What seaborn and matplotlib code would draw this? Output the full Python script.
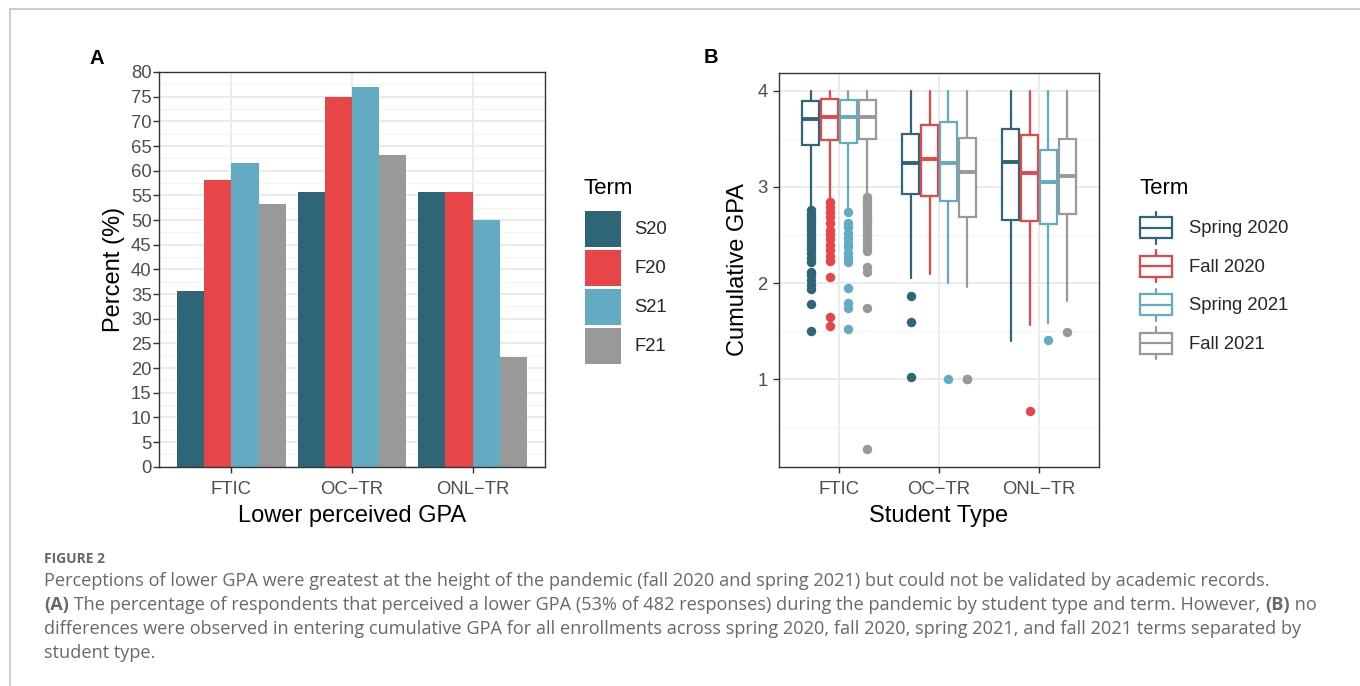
import matplotlib
matplotlib.use("Agg")
import matplotlib.pyplot as plt
import numpy as np
import pandas as pd
import seaborn as sns
from matplotlib.patches import Patch, Rectangle
from matplotlib.lines import Line2D
from matplotlib.legend_handler import HandlerBase

# ---------------- data ----------------
categories = ["FTIC", "OC\u2212TR", "ONL\u2212TR"]
terms_short = ["S20", "F20", "S21", "F21"]
terms_long = ["Spring 2020", "Fall 2020", "Spring 2021", "Fall 2021"]
term_colors = ["#2E6677", "#E84548", "#63ABC3", "#999999"]

# Panel A: percent perceiving lower GPA (by category)
pct_S20 = [35.7, 55.6, 55.6]
pct_F20 = [58.2, 75.0, 55.6]
pct_S21 = [61.5, 76.9, 50.0]
pct_F21 = [53.2, 63.2, 22.2]

# Panel B: box statistics per term (FTIC, OC-TR, ONL-TR)
q1_S20 = [3.43, 2.93, 2.66]
med_S20 = [3.71, 3.25, 3.26]
q3_S20 = [3.89, 3.55, 3.60]
lo_S20 = [2.78, 2.05, 1.40]
hi_S20 = [4.00, 4.00, 4.00]
fl_S20 = [[2.76, 2.72, 2.69, 2.66, 2.62, 2.58, 2.55, 2.51, 2.47, 2.43, 2.39,
           2.35, 2.31, 2.26, 2.22, 2.12, 2.08, 2.03, 1.98, 1.94, 1.78, 1.50],
          [1.87, 1.60, 1.03],
          []]

q1_F20 = [3.49, 2.91, 2.65]
med_F20 = [3.73, 3.29, 3.14]
q3_F20 = [3.91, 3.64, 3.54]
lo_F20 = [2.87, 2.10, 1.57]
hi_F20 = [4.00, 4.00, 4.00]
fl_F20 = [[2.84, 2.79, 2.74, 2.69, 2.62, 2.55, 2.51, 2.46, 2.40, 2.34, 2.28,
           2.23, 2.06, 1.65, 1.56],
          [],
          [0.67]]

q1_S21 = [3.46, 2.85, 2.61]
med_S21 = [3.73, 3.25, 3.05]
q3_S21 = [3.90, 3.67, 3.38]
lo_S21 = [2.78, 2.00, 1.59]
hi_S21 = [4.00, 4.00, 4.00]
fl_S21 = [[2.74, 2.62, 2.58, 2.52, 2.47, 2.42, 2.38, 2.31, 2.26, 2.22, 1.95,
           1.79, 1.74, 1.52],
          [1.00],
          [1.41]]

q1_F21 = [3.50, 2.69, 2.72]
med_F21 = [3.73, 3.15, 3.11]
q3_F21 = [3.90, 3.51, 3.50]
lo_F21 = [2.90, 1.96, 1.81]
hi_F21 = [4.00, 4.00, 4.00]
fl_F21 = [[2.89, 2.86, 2.83, 2.80, 2.77, 2.73, 2.70, 2.66, 2.62, 2.58, 2.54,
           2.50, 2.46, 2.42, 2.38, 2.33, 2.17, 2.12, 1.74, 0.28],
          [1.01, 1.00],
          [1.49]]

caption_title = "FIGURE 2"
caption_lines = [
    [("Perceptions of lower GPA were greatest at the height of the pandemic (fall 2020 and spring 2021) but could not be validated by academic records.", "normal")],
    [("(A)", "bold"), (" The percentage of respondents that perceived a lower GPA (53% of 482 responses) during the pandemic by student type and term. However, ", "normal"), ("(B)", "bold"), (" no", "normal")],
    [("differences were observed in entering cumulative GPA for all enrollments across spring 2020, fall 2020, spring 2021, and fall 2021 terms separated by", "normal")],
    [("student type.", "normal")],
]

# ---------------- style ----------------
sns.set_theme(style="white")
plt.rcParams["font.family"] = ["Liberation Sans", "DejaVu Sans"]

W, H = 1360, 686
fig = plt.figure(figsize=(W / 100, H / 100), dpi=100)
fig.patch.set_facecolor("white")

def fx(px):
    return px / W

def fy(py):
    return 1 - py / H

TICK_COL = "#4D4D4D"
GRID_MAJ = "#EBEBEB"
GRID_MIN = "#F3F3F3"

def style_axes(ax, ypad):
    ax.set_facecolor("white")
    ax.set_axisbelow(True)
    for s in ax.spines.values():
        s.set_color("#333333")
        s.set_linewidth(1.0)
        s.set_visible(True)
    ax.tick_params(axis="both", which="major", direction="out", length=4,
                   width=1.0, color="#333333", labelcolor=TICK_COL,
                   labelsize=13.3, bottom=True, left=True)
    ax.tick_params(axis="x", which="major", pad=6)
    ax.tick_params(axis="y", which="major", pad=ypad)
    ax.tick_params(axis="both", which="minor", length=0)
    ax.grid(True, which="major", color=GRID_MAJ, linewidth=1.4)
    ax.grid(True, which="minor", axis="y", color=GRID_MIN, linewidth=0.8)

# ---------------- panel A ----------------
axA = fig.add_axes([fx(159), fy(466.7), fx(545) - fx(159), fy(72) - fy(466.7)])
dfA = pd.DataFrame({
    "Type": categories * 4,
    "Term": np.repeat(terms_short, len(categories)),
    "Percent": pct_S20 + pct_F20 + pct_S21 + pct_F21,
})
sns.barplot(data=dfA, x="Type", y="Percent", hue="Term", order=categories,
            hue_order=terms_short, palette=term_colors, width=0.9, gap=0,
            saturation=1, errorbar=None, legend=False, linewidth=0,
            edgecolor="none", ax=axA)
style_axes(axA, ypad=1.3)
axA.set_xlim(-0.6, 2.6)
axA.set_ylim(0, 80)
axA.set_yticks(np.arange(0, 81, 5))
axA.set_yticks(np.arange(2.5, 80, 5), minor=True)
axA.set_xlabel("Lower perceived GPA", fontsize=17, color="black", labelpad=5)
axA.set_ylabel("Percent (%)", fontsize=17, color="black", labelpad=4.3)

# ---------------- panel B ----------------
axB = fig.add_axes([fx(779), fy(466.7), fx(1099) - fx(779), fy(72.7) - fy(466.7)])
style_axes(axB, ypad=4.3)

box_sets = [
    (q1_S20, med_S20, q3_S20, lo_S20, hi_S20, fl_S20),
    (q1_F20, med_F20, q3_F20, lo_F20, hi_F20, fl_F20),
    (q1_S21, med_S21, q3_S21, lo_S21, hi_S21, fl_S21),
    (q1_F21, med_F21, q3_F21, lo_F21, hi_F21, fl_F21),
]
offsets = [-0.28125, -0.09375, 0.09375, 0.28125]
for ti, (q1, med, q3, lo, hi, fl) in enumerate(box_sets):
    c = term_colors[ti]
    stats = []
    for ci in range(len(categories)):
        stats.append(dict(q1=q1[ci], med=med[ci], q3=q3[ci], whislo=lo[ci],
                          whishi=hi[ci], fliers=fl[ci], label=""))
    pos = [ci + offsets[ti] for ci in range(len(categories))]
    axB.bxp(stats, positions=pos, widths=0.172, showcaps=False,
            patch_artist=True, manage_ticks=False,
            boxprops=dict(facecolor="white", edgecolor=c, linewidth=1.6),
            whiskerprops=dict(color=c, linewidth=1.6),
            medianprops=dict(color=c, linewidth=2.8, solid_capstyle="butt"),
            flierprops=dict(marker="o", markerfacecolor=c,
                            markeredgecolor="none", markersize=6.8))

axB.set_xlim(-0.6, 2.6)
axB.set_ylim(0.094, 4.186)
axB.set_xticks(range(len(categories)))
axB.set_xticklabels(categories)
axB.set_yticks([1, 2, 3, 4])
axB.set_yticks([0.5, 1.5, 2.5, 3.5], minor=True)
axB.set_xlabel("Student Type", fontsize=17, color="black", labelpad=5)
axB.set_ylabel("Cumulative GPA", fontsize=17, color="black", labelpad=6)

# ---------------- legends ----------------
fig.text(fx(583), fy(194), "Term", fontsize=16, color="black", va="baseline", ha="left")
fig.text(fx(1140), fy(194), "Term", fontsize=16, color="black", va="baseline", ha="left")

FS = 13.3
fs_px = FS * 100 / 72

def hh_for(px):
    # matplotlib handle box height = fs*(0.65*hh + 0.245)
    return (px / fs_px - 0.245) / 0.65

hA = [Patch(facecolor=c, edgecolor="none") for c in term_colors]
legA = fig.legend(hA, terms_short, loc="upper left",
                  bbox_to_anchor=(fx(585), fy(210.7)), frameon=False,
                  fontsize=FS, handlelength=36 / fs_px, handleheight=hh_for(36),
                  labelspacing=3 / fs_px, handletextpad=13 / fs_px,
                  borderpad=0, borderaxespad=0)


class BoxHandler(HandlerBase):
    def create_artists(self, legend, orig_handle, xdescent, ydescent, width,
                       height, fontsize, trans):
        c = orig_handle.get_color()
        x0 = -xdescent
        y0 = -ydescent
        cx = x0 + width / 2
        b0 = y0 + 0.17 * height
        b1 = y0 + 0.83 * height
        rect = Rectangle((x0, b0), width, b1 - b0, facecolor="white",
                         edgecolor=c, linewidth=1.6, transform=trans)
        wl = Line2D([cx, cx], [y0, b0], color=c, linewidth=1.6, transform=trans)
        wh = Line2D([cx, cx], [b1, y0 + height], color=c, linewidth=1.6, transform=trans)
        md = Line2D([x0, x0 + width], [(b0 + b1) / 2] * 2, color=c,
                    linewidth=1.6, transform=trans)
        return [wl, wh, rect, md]


hB = [Line2D([], [], color=c) for c in term_colors]
legB = fig.legend(hB, terms_long, loc="upper left",
                  bbox_to_anchor=(fx(1140), fy(211.7)), frameon=False,
                  fontsize=FS, handlelength=32 / fs_px, handleheight=hh_for(32),
                  labelspacing=6.5 / fs_px, handletextpad=17 / fs_px,
                  borderpad=0, borderaxespad=0,
                  handler_map={Line2D: BoxHandler()})

# ---------------- panel tags ----------------
fig.text(fx(89), fy(64), "A", fontsize=14.5, fontweight="bold", color="black", va="baseline")
fig.text(fx(704), fy(63), "B", fontsize=14.5, fontweight="bold", color="black", va="baseline")

# ---------------- frame ----------------
fig.add_artist(Line2D([fx(10), 1], [fy(8.5), fy(8.5)], color="#C4C4C4", linewidth=1.2))
fig.add_artist(Line2D([fx(10), fx(10)], [fy(8.5), 0], color="#C4C4C4", linewidth=1.2))

# ---------------- caption ----------------
CAP_FONT = ["Open Sans", "DejaVu Sans"]
CAP_COL = "#686868"
fig.text(fx(44), fy(562.7), caption_title, fontsize=10, fontweight="bold",
         family=CAP_FONT, color=CAP_COL, va="baseline")

renderer = fig.canvas.get_renderer()
cap_fs = 13.1
baselines = [585.7, 610, 634, 658]
for line, yb in zip(caption_lines, baselines):
    xpx = 44.0
    for txt, wt in line:
        t = fig.text(fx(xpx), fy(yb), txt, fontsize=cap_fs, fontweight=wt,
                     family=CAP_FONT, color=CAP_COL, va="baseline", ha="left")
        bb = t.get_window_extent(renderer=renderer)
        xpx += bb.width

fig.savefig("out.png", dpi=100, facecolor="white")
